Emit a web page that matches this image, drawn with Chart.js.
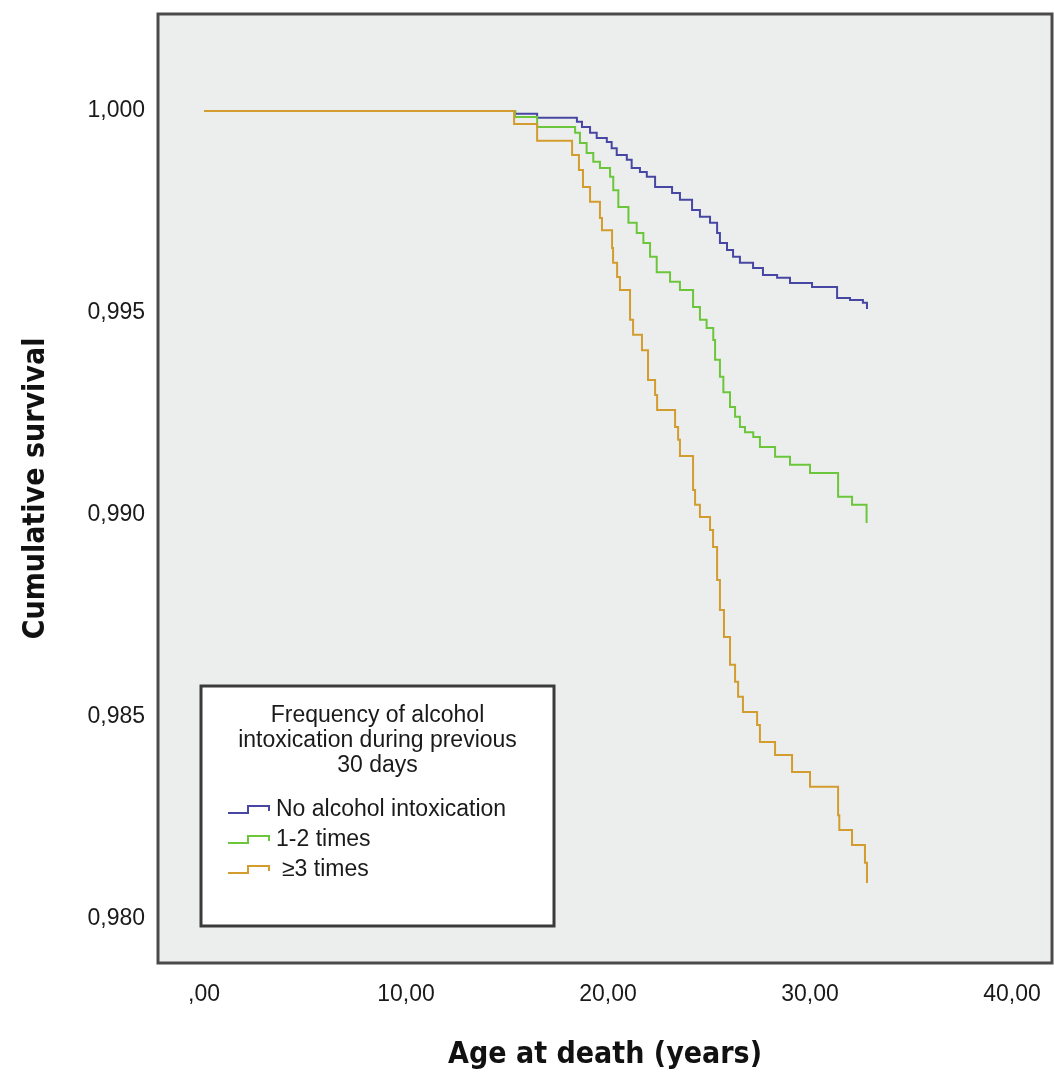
<!DOCTYPE html>
<html>
<head>
<meta charset="utf-8">
<script src="https://cdn.jsdelivr.net/npm/chart.js@4.4.1/dist/chart.umd.min.js"></script>
<style>
  html, body { margin: 0; padding: 0; background: #fff; }
  #wrap { width: 1054px; height: 1077px; }
</style>
</head>
<body>
<div id="wrap"><canvas id="km" width="1054" height="1077"></canvas></div>
<script>
const legendTitle = ['Frequency of alcohol', 'intoxication during previous', '30 days'];
const groupNames = ['No alcohol intoxication', '1-2 times', '\u22653 times'];
const groupColors = ['#4747a3', '#6cc63c', '#d39c2e'];

const xTicks = [0, 10, 20, 30, 40];
const xTickLabels = [',00', '10,00', '20,00', '30,00', '40,00'];
const yTicks = [1.000, 0.995, 0.990, 0.985, 0.980];
const yTickLabels = ['1,000', '0,995', '0,990', '0,985', '0,980'];

// Kaplan-Meier steps: age of event, survival after the step
const noneAge = [0, 15.40, 16.49, 18.46, 18.71, 19.11, 19.44, 19.94, 20.18, 20.43,
  20.93, 21.17, 21.58, 21.92, 22.33, 23.17, 23.56, 24.16, 24.55, 25.05,
  25.40, 25.54, 25.89, 26.19, 26.53, 27.18, 27.67, 28.37, 29.01, 30.10,
  31.34, 31.98, 32.62, 32.82];
const noneSurv = [1, 0.99993, 0.99983, 0.99973, 0.99960, 0.99946, 0.99933, 0.99923, 0.99908, 0.99891,
  0.99879, 0.99859, 0.99849, 0.99837, 0.99812, 0.99797, 0.99780, 0.99755, 0.99738, 0.99723,
  0.99698, 0.99673, 0.99656, 0.99639, 0.99624, 0.99611, 0.99594, 0.99587, 0.99574, 0.99564,
  0.99537, 0.99532, 0.99525, 0.99510];

const lowAge = [0, 15.40, 16.49, 18.37, 18.61, 18.94, 19.27, 19.60, 20.10, 20.26,
  20.51, 21.01, 21.42, 21.75, 22.08, 22.41, 23.07, 23.56, 24.21, 24.55,
  24.88, 25.21, 25.30, 25.54, 25.71, 26.04, 26.29, 26.53, 26.78, 27.19,
  27.52, 28.27, 29.01, 30.00, 31.39, 32.08, 32.80];
const lowSurv = [1, 0.99985, 0.99960, 0.99946, 0.99921, 0.99896, 0.99874, 0.99859, 0.99837, 0.99804,
  0.99762, 0.99723, 0.99698, 0.99673, 0.99639, 0.99601, 0.99577, 0.99557, 0.99515, 0.99483,
  0.99463, 0.99433, 0.99384, 0.99342, 0.99304, 0.99267, 0.99243, 0.99218, 0.99205, 0.99193,
  0.99168, 0.99144, 0.99124, 0.99104, 0.99045, 0.99025, 0.98980];

const highAge = [0, 15.35, 16.49, 18.22, 18.56, 18.76, 19.11, 19.60, 19.70, 20.20,
  20.25, 20.45, 20.59, 21.09, 21.24, 21.68, 21.98, 22.33, 22.43, 23.32,
  23.47, 23.56, 24.21, 24.31, 24.55, 25.05, 25.20, 25.40, 25.54, 25.74,
  26.04, 26.29, 26.44, 26.68, 27.38, 27.52, 28.27, 29.11, 30.00, 31.39,
  31.45, 32.08, 32.72, 32.82];
const highSurv = [1, 0.99968, 0.99926, 0.99891, 0.99854, 0.99812, 0.99775, 0.99735, 0.99705, 0.99661,
  0.99624, 0.99589, 0.99557, 0.99483, 0.99446, 0.99408, 0.99334, 0.99297, 0.99260, 0.99218,
  0.99186, 0.99146, 0.99062, 0.99025, 0.98995, 0.98963, 0.98921, 0.98839, 0.98765, 0.98698,
  0.98629, 0.98587, 0.98550, 0.98512, 0.98480, 0.98438, 0.98406, 0.98364, 0.98327, 0.98257,
  0.98220, 0.98183, 0.98139, 0.98089];

const FONT = "'Liberation Sans', Arial, sans-serif";
const TITLE_FONT = "'DejaVu Sans Condensed', 'Liberation Sans', sans-serif";

const toPoints = (ages, surv) => ages.map((a, i) => ({ x: a, y: surv[i] }));

const series = [
  [noneAge, noneSurv],
  [lowAge, lowSurv],
  [highAge, highSurv],
];

const datasets = series.map(([ages, surv], i) => ({
  label: groupNames[i],
  data: toPoints(ages, surv),
  borderColor: groupColors[i],
  borderWidth: 2,
  stepped: 'before', // hold the old value, then drop at the event age
  pointRadius: 0,
  fill: false,
  order: 3 - i, // gold line ends up on top
}));

// plot background, frame and the boxed legend
const frame = {
  id: 'frame',
  beforeDraw(chart) {
    const { ctx, chartArea: a } = chart;
    ctx.save();
    ctx.fillStyle = '#eceeed';
    ctx.fillRect(a.left, a.top, a.right - a.left, a.bottom - a.top);
    ctx.restore();
  },
  afterDraw(chart) {
    const { ctx, chartArea: a } = chart;
    ctx.save();
    ctx.strokeStyle = '#4a4a4a';
    ctx.lineWidth = 3;
    ctx.strokeRect(a.left, a.top, a.right - a.left, a.bottom - a.top);

    // legend box
    const bx = 201, by = 686, bw = 353, bh = 240;
    ctx.fillStyle = '#ffffff';
    ctx.fillRect(bx, by, bw, bh);
    ctx.strokeStyle = '#3a3a3a';
    ctx.lineWidth = 3;
    ctx.strokeRect(bx, by, bw, bh);

    ctx.fillStyle = '#1a1a1a';
    ctx.font = '23px ' + FONT;
    ctx.textAlign = 'center';
    ctx.textBaseline = 'middle';
    legendTitle.forEach((t, i) => ctx.fillText(t, bx + bw / 2, 716 + i * 25));

    ctx.textAlign = 'left';
    chart.data.datasets.forEach((ds, i) => {
      const cy = 810 + i * 30;
      ctx.strokeStyle = ds.borderColor;
      ctx.lineWidth = 2;
      ctx.beginPath();
      ctx.moveTo(228, cy + 3);
      ctx.lineTo(248, cy + 3);
      ctx.lineTo(248, cy - 4);
      ctx.lineTo(269, cy - 4);
      ctx.lineTo(269, cy + 1);
      ctx.stroke();
      ctx.fillStyle = '#1a1a1a';
      ctx.fillText(ds.label, i === 2 ? 282 : 276, cy);
    });
    ctx.restore();
  }
};

new Chart(document.getElementById('km'), {
  type: 'line',
  data: { datasets },
  options: {
    responsive: false,
    animation: false,
    devicePixelRatio: 1,
    layout: { autoPadding: false, padding: { top: 14, right: 2, left: 0, bottom: 0 } },
    plugins: {
      legend: { display: false },
      tooltip: { enabled: false },
    },
    scales: {
      x: {
        type: 'linear',
        min: -2.28,
        max: 41.98,
        grid: { display: false, drawTicks: false },
        border: { display: false },
        afterBuildTicks: (axis) => { axis.ticks = xTicks.map(v => ({ value: v })); },
        afterFit: (axis) => {
          axis.height = 114;
          // labels may overhang the frame, keep plot area fixed
          axis.paddingLeft = 0;
          axis.paddingRight = 0;
        },
        ticks: {
          padding: 18,
          color: '#1a1a1a',
          font: { family: FONT, size: 23 },
          maxRotation: 0,
          callback: (v) => xTickLabels[xTicks.indexOf(v)],
        },
        title: {
          display: true,
          text: 'Age at death (years)',
          color: '#111',
          font: { family: TITLE_FONT, size: 30, weight: 'bold' },
          padding: { top: 0, bottom: 4 },
        },
      },
      y: {
        type: 'linear',
        min: 0.97891,
        max: 1.0024,
        grid: { display: false, drawTicks: false },
        border: { display: false },
        afterBuildTicks: (axis) => { axis.ticks = yTicks.map(v => ({ value: v })); },
        afterFit: (axis) => {
          axis.width = 158;
          axis.paddingTop = 0;
          axis.paddingBottom = 0;
        },
        ticks: {
          padding: 13,
          color: '#1a1a1a',
          font: { family: FONT, size: 23 },
          callback: (v) => yTickLabels[yTicks.findIndex(t => Math.abs(t - v) < 1e-9)],
        },
        title: {
          display: true,
          text: 'Cumulative survival',
          color: '#111',
          font: { family: TITLE_FONT, size: 30, weight: 'bold' },
          padding: { top: 18, bottom: 0 },
        },
      },
    },
  },
  plugins: [frame],
});
</script>
</body>
</html>
